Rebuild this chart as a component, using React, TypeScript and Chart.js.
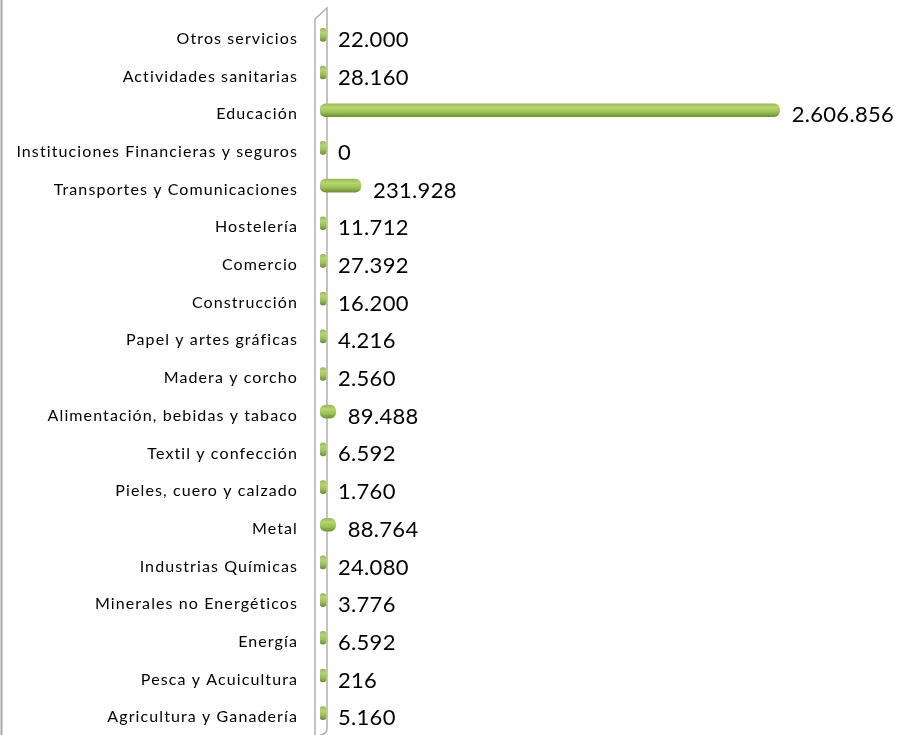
import React, { useEffect, useRef } from "react";
import { Chart, registerables } from "chart.js";

Chart.register(...registerables);

const categories: string[] = [
  "Otros servicios",
  "Actividades sanitarias",
  "Educación",
  "Instituciones Financieras y seguros",
  "Transportes y Comunicaciones",
  "Hostelería",
  "Comercio",
  "Construcción",
  "Papel y artes gráficas",
  "Madera y corcho",
  "Alimentación, bebidas y tabaco",
  "Textil y confección",
  "Pieles, cuero y calzado",
  "Metal",
  "Industrias Químicas",
  "Minerales no Energéticos",
  "Energía",
  "Pesca y Acuicultura",
  "Agricultura y Ganadería",
];

const values: number[] = [
  22000, 28160, 2606856, 0, 231928, 11712, 27392, 16200, 4216, 2560, 89488,
  6592, 1760, 88764, 24080, 3776, 6592, 216, 5160,
];

const axisMax = 3000000;

function fmt(n: number): string {
  const s = Math.round(n).toString();
  return s.replace(/\B(?=(\d{3})+(?!\d))/g, ".");
}

const LABEL_SHIFT = 4;
const BAR_T = 13;

const decorPlugin = {
  id: "decor",
  beforeDraw(chart: any) {
    chart.ctx.letterSpacing = "1.1px";
  },
  beforeDatasetsDraw(chart: any) {
    const { ctx, chartArea } = chart;
    const x0 = chartArea.left;
    ctx.save();
    ctx.letterSpacing = "0px";
    ctx.strokeStyle = "#a6a6a6";
    ctx.lineWidth = 2;
    ctx.beginPath();
    ctx.moveTo(1.5, 0);
    ctx.lineTo(1.5, chart.height);
    ctx.stroke();
    ctx.strokeStyle = "#b0b0b0";
    ctx.lineWidth = 1.5;
    ctx.beginPath();
    ctx.moveTo(x0 - 5, chart.height);
    ctx.lineTo(x0 - 5, 19);
    ctx.lineTo(x0 + 7, 8);
    ctx.lineTo(x0 + 7, chart.height - 6);
    ctx.quadraticCurveTo(x0 + 7, chart.height - 1, x0, chart.height);
    ctx.stroke();
    ctx.restore();
  },
  afterDatasetsDraw(chart: any) {
    const { ctx } = chart;
    const meta = chart.getDatasetMeta(0);
    ctx.save();
    ctx.letterSpacing = "0.3px";
    ctx.font = "22px Lato";
    ctx.fillStyle = "#000";
    ctx.textAlign = "left";
    ctx.textBaseline = "middle";
    meta.data.forEach((bar: any, i: number) => {
      const end = Math.max(bar.x, chart.chartArea.left + 4);
      ctx.fillText(fmt(values[i]), end + 12, bar.y + LABEL_SHIFT + 1);
    });
    ctx.restore();
  },
  afterDraw(chart: any) {
    chart.ctx.letterSpacing = "0px";
  },
};

export default function App() {
  const ref = useRef<HTMLCanvasElement | null>(null);
  useEffect(() => {
    if (!ref.current) return;
    const chart = new Chart(ref.current, {
      type: "bar",
      data: {
        labels: categories,
        datasets: [
          {
            data: values,
            barThickness: BAR_T,
            minBarLength: 6,
            borderRadius: 6,
            borderSkipped: false,
            backgroundColor: (c: any) => {
              const ch = c.chart;
              const y = ch.scales?.y;
              if (!y || c.dataIndex === undefined) return "#9bbb59";
              const cy = y.getPixelForValue(c.dataIndex);
              if (!Number.isFinite(cy)) return "#9bbb59";
              const g = ch.ctx.createLinearGradient(0, cy - BAR_T / 2, 0, cy + BAR_T / 2);
              g.addColorStop(0, "#98b955");
              g.addColorStop(0.3, "#b6d670");
              g.addColorStop(0.65, "#9cc055");
              g.addColorStop(1, "#6f8f36");
              return g;
            },
          },
        ],
      },
      options: {
        indexAxis: "y",
        animation: false,
        responsive: true,
        maintainAspectRatio: false,
        layout: { padding: { top: 16, bottom: 3, left: 0, right: 51 } },
        plugins: { legend: { display: false }, tooltip: { enabled: false } },
        scales: {
          x: { display: false, min: 0, max: axisMax },
          y: {
            afterFit: (s: any) => {
              s.width = 320;
              s.paddingTop = 0;
              s.paddingBottom = 0;
            },
            grid: { display: false, drawTicks: false },
            border: { display: false },
            ticks: {
              padding: 22,
              labelOffset: LABEL_SHIFT,
              color: "#000",
              font: { family: "Lato", size: 16 },
              autoSkip: false,
            },
          },
        },
      },
      plugins: [decorPlugin],
    } as any);
    return () => chart.destroy();
  }, []);
  return (
    <div style={{ position: "fixed", left: 0, top: 0, width: 900, height: 735, background: "#fff" }}>
      <canvas ref={ref} />
    </div>
  );
}
